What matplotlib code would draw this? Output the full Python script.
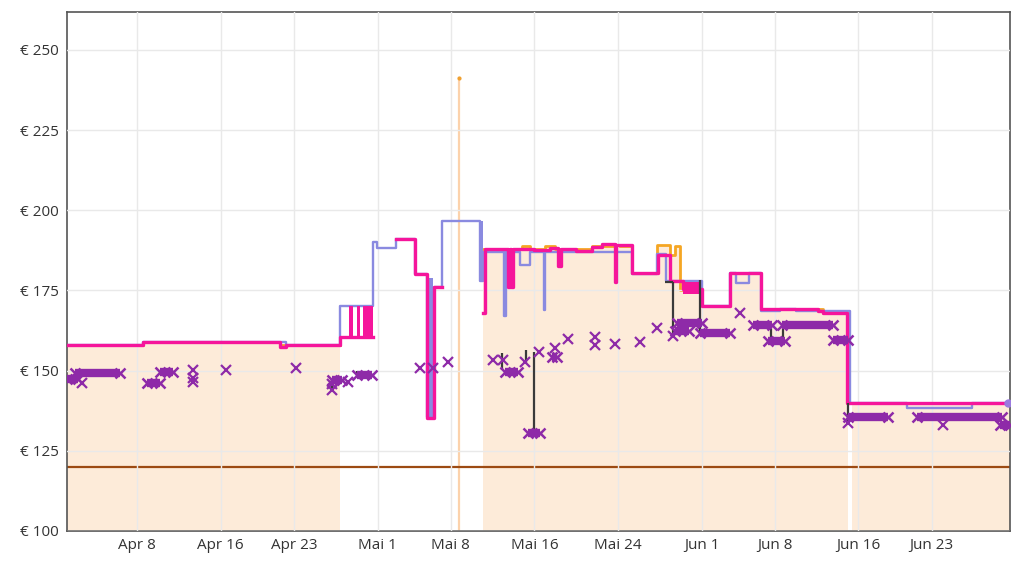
import numpy as np
import matplotlib
matplotlib.use("Agg")
import matplotlib.pyplot as plt

BASE = np.datetime64("2023-04-01T00:00:00")

# ---------------- data (x = days since Apr 1) ----------------
# Amazon price (orange line + filled area)
amz_days = [0.3, 7.57, 20.67, 26.41, 40.08, 43.8, 44.6, 46.0, 47.0, 50.5, 54.32, 56.71,
            57.96, 58.44, 58.91, 61.02, 63.69, 66.66, 72.6, 74.97, 75.36, 90.6]
amz_vals = [158, 159, 158, np.nan, 188, 189, 188, 189, 188, 189, 180.4, 189.2,
            186, 189, 175, 170, 180.5, 169.2, 168.1, np.nan, 140, 140]

# Amazon short spike
spike_day = 37.78
spike_val = 241.3

# New, 3rd party (magenta)
mag_days = [0.3, 7.57, 20.67, 21.24, 26.41, 29.56, 31.76, 33.58, 34.72, 35.39, 36.16,
            40.08, 40.25, 42.5, 42.65, 42.8, 42.95, 45.0, 46.5, 47.3, 47.55, 49.0, 50.5,
            51.5, 52.7, 52.85, 54.32, 56.8, 57.96, 59.2, 61.02, 63.69, 66.66, 72.11,
            72.6, 74.9, 90.27]
mag_vals = [158, 159, 157.5, 158, 160.5, np.nan, 191, 180, 135.2, 176, np.nan,
            168, 188, 176, 188, 176, 188, 187.5, 188.3, 182.6, 188, 187.3, 188.5,
            189.5, 177.6, 189.3, 180.4, 186, 178, 175.5, 170, 180.5, 169.2, 168.5,
            168.1, 140, 140]

# New (blue)
blue_days = [0.3, 7.57, 21.24, 26.41, 29.56, 29.94, 31.76, 33.58, 34.72, 35.39, 36.16,
             39.79, 40.08, 42.09, 42.25, 43.62, 44.57, 45.91, 46.05, 54.32, 56.71,
             57.6, 58.44, 61.02, 63.69, 64.3, 65.5, 66.66, 68.5, 70.0, 72.11, 75.16,
             80.62, 86.83, 90.27]
blue_vals = [158, 159, 158, 170, 190, 188.2, 191, 180, 135.5, 176, 196.7,
             178, 187, 167, 187, 183, 187, 169, 187, 180, 186.5,
             178, 178, 170, 180.5, 177.3, 180.5, 168.6, 169.2, 168.6, 168.6, 140,
             138.3, 140, 140]

# Rapid oscillation blocks (start day, end day, low, high)
osc_start = [27.27, 28.03, 28.61, 34.8, 39.79, 59.2]
osc_end = [27.65, 28.32, 29.56, 35.3, 40.08, 60.9]
osc_low = [160, 160, 160, 136, 178, 174]
osc_high = [170, 170, 170, 179, 196.7, 177.5]
osc_series = ["mag", "mag", "mag", "blue", "blue", "mag"]

# Used (dark gray vertical moves)
used_day = [25.66, 28.03, 41.9, 44.19, 44.95, 58.24, 60.83, 67.6, 68.76, 74.97]
used_hi = [147, 150, 155.5, 156.4, 155.8, 177.7, 178.3, 164, 164, 140]
used_lo = [144, 148.5, 150.2, 152.4, 130.5, 160.8, 162, 159, 159, 133.7]
used_flat_start = [57.48]
used_flat_end = [58.24]
used_flat_val = [177.7]

# Warehouse deals (purple x) – runs held at one price, and single points
wh_start = [0.31, 1.07, 7.96, 9.2, 25.64, 28.03, 42.18, 44.38, 46.7, 58.6, 58.5,
            60.83, 65.89, 67.33, 68.66, 73.54, 74.97, 81.57, 89.5]
wh_end = [1.36, 5.37, 9.2, 10.44, 26.6, 29.47, 43.42, 45.53, 47.2, 61.0, 59.8,
          63.69, 67.71, 68.95, 73.54, 74.97, 78.8, 89.7, 90.5]
wh_val = [147.3, 149.2, 146.2, 149.7, 147.1, 148.6, 149.6, 130.5, 154.3, 165.0, 162.5,
          161.7, 164.2, 159.2, 164.2, 159.6, 135.6, 135.6, 133]
whs_day = [1.74, 12.35, 12.35, 12.35, 15.5, 22.2, 25.66, 25.66, 27.17, 34.05, 35.3,
           36.73, 41.03, 41.99, 44.09, 45.43, 46.96, 48.2, 50.79, 50.79, 52.7,
           55.09, 56.71, 58.24, 64.65, 74.97, 84.06]
whs_val = [146, 150.2, 146.5, 147.7, 150.2, 150.8, 144, 145.8, 146.6, 150.8, 150.8,
           152.8, 153.3, 153.3, 152.7, 155.8, 157, 160, 160.6, 158, 158.3,
           159, 163.3, 160.8, 168, 133.7, 133]

# Reference line
ref_val = 120

# Axis ticks
tick_dates = ["2023-04-08", "2023-04-16", "2023-04-23", "2023-05-01", "2023-05-08",
              "2023-05-16", "2023-05-24", "2023-06-01", "2023-06-08", "2023-06-16",
              "2023-06-23"]
tick_labels = ["Apr 8", "Apr 16", "Apr 23", "Mai 1", "Mai 8", "Mai 16", "Mai 24",
               "Jun 1", "Jun 8", "Jun 16", "Jun 23"]
y_ticks = [100, 125, 150, 175, 200, 225, 250]


def to_dates(days):
    arr = np.asarray(days, dtype=float)
    return BASE + (arr * 86400).astype("timedelta64[s]")


def stepify(days, vals):
    d = np.asarray(days, float)
    v = np.asarray(vals, float)
    xs = np.empty(2 * len(d) - 1)
    ys = np.empty(2 * len(d) - 1)
    xs[0::2] = d
    ys[0::2] = v
    xs[1::2] = d[1:]
    ys[1::2] = v[:-1]
    return xs, ys


plt.rcParams["font.family"] = ["Open Sans", "DejaVu Sans"]
fig = plt.figure(figsize=(10.2, 5.61), dpi=100)
ax = fig.add_axes([67 / 1020, 30 / 561, (1010 - 67) / 1020, (531 - 12) / 561])

C_FILL = "#fdebd9"
C_AMZ = "#f5a623"
C_MAG = "#f5159b"
C_BLUE = "#8a8ae0"
C_WH = "#8e2aa8"
C_USED = "#3a3a3a"
C_REF = "#9c4a12"

# fill under Amazon price
fx, fy = stepify(amz_days, amz_vals)
ax.fill_between(to_dates(fx), 100, fy, color=C_FILL, lw=0, zorder=0.5)
# spike
ax.plot(to_dates([spike_day, spike_day]), [100, spike_val], color="#fcd2ab", lw=1.6, zorder=1.2)
ax.plot(to_dates([spike_day]), [spike_val], "o", color="#f0a030", ms=2, zorder=1.3)

ax.grid(True, color="#e9e9e9", lw=1, zorder=0.8)
ax.set_axisbelow(False)
for gl in ax.get_xgridlines() + ax.get_ygridlines():
    gl.set_zorder(0.8)

ax.axhline(ref_val, color=C_REF, lw=1.6, zorder=2)

# Amazon line
ax.plot(to_dates(amz_days), amz_vals, drawstyle="steps-post", color=C_AMZ, lw=2, zorder=2.5)
# blue
ax.plot(to_dates(blue_days), blue_vals, drawstyle="steps-post", color=C_BLUE, lw=1.7, zorder=3)
# magenta
ax.plot(to_dates(mag_days), mag_vals, drawstyle="steps-post", color=C_MAG, lw=2.4, zorder=4)

for s, e, lo, hi, ser in zip(osc_start, osc_end, osc_low, osc_high, osc_series):
    col = C_MAG if ser == "mag" else C_BLUE
    z = 4 if ser == "mag" else 3.5
    ax.fill_between(to_dates([s, e]), lo, hi, color=col, lw=0, zorder=z)

# used
ax.vlines(to_dates(used_day), used_lo, used_hi, color=C_USED, lw=1.6, zorder=5)
ax.hlines(used_flat_val, to_dates(used_flat_start), to_dates(used_flat_end), color=C_USED, lw=1.6, zorder=5)

# warehouse: held runs drawn as dense bands with x ends
for s, e, v in zip(wh_start, wh_end, wh_val):
    ax.plot(to_dates([s, e]), [v, v], color=C_WH, lw=6, solid_capstyle="butt", zorder=6)
    ax.plot(to_dates([s, e]), [v, v], ls="none", marker="x", color=C_WH, ms=7, mew=1.8, zorder=6)
ax.plot(to_dates(whs_day), whs_val, "x", color=C_WH, ms=7, mew=1.6, zorder=6)

# end dot
ax.plot(to_dates([90.27]), [140], "o", color="#9a7ae0", ms=5, zorder=7)

ax.set_ylim(100, 261.8)
ax.set_xlim(to_dates([0.3])[0], to_dates([90.5])[0])
ax.set_yticks(y_ticks)
ax.set_yticklabels([f"€ {t}" for t in y_ticks])
ax.set_xticks(np.array(tick_dates, dtype="datetime64[s]"))
ax.set_xticklabels(tick_labels)
ax.tick_params(axis="both", length=0, labelsize=11, colors="#333333")
ax.tick_params(axis="y", pad=6)
ax.tick_params(axis="x", pad=5)
ax.set_xticks(np.array(["2023-05-01", "2023-06-01"], dtype="datetime64[s]"), minor=True)
ax.tick_params(axis="x", which="minor", length=4, direction="in", color="#888888")
for sp in ax.spines.values():
    sp.set_color("#555555")
    sp.set_linewidth(1.2)

fig.savefig("out.png", dpi=100)
